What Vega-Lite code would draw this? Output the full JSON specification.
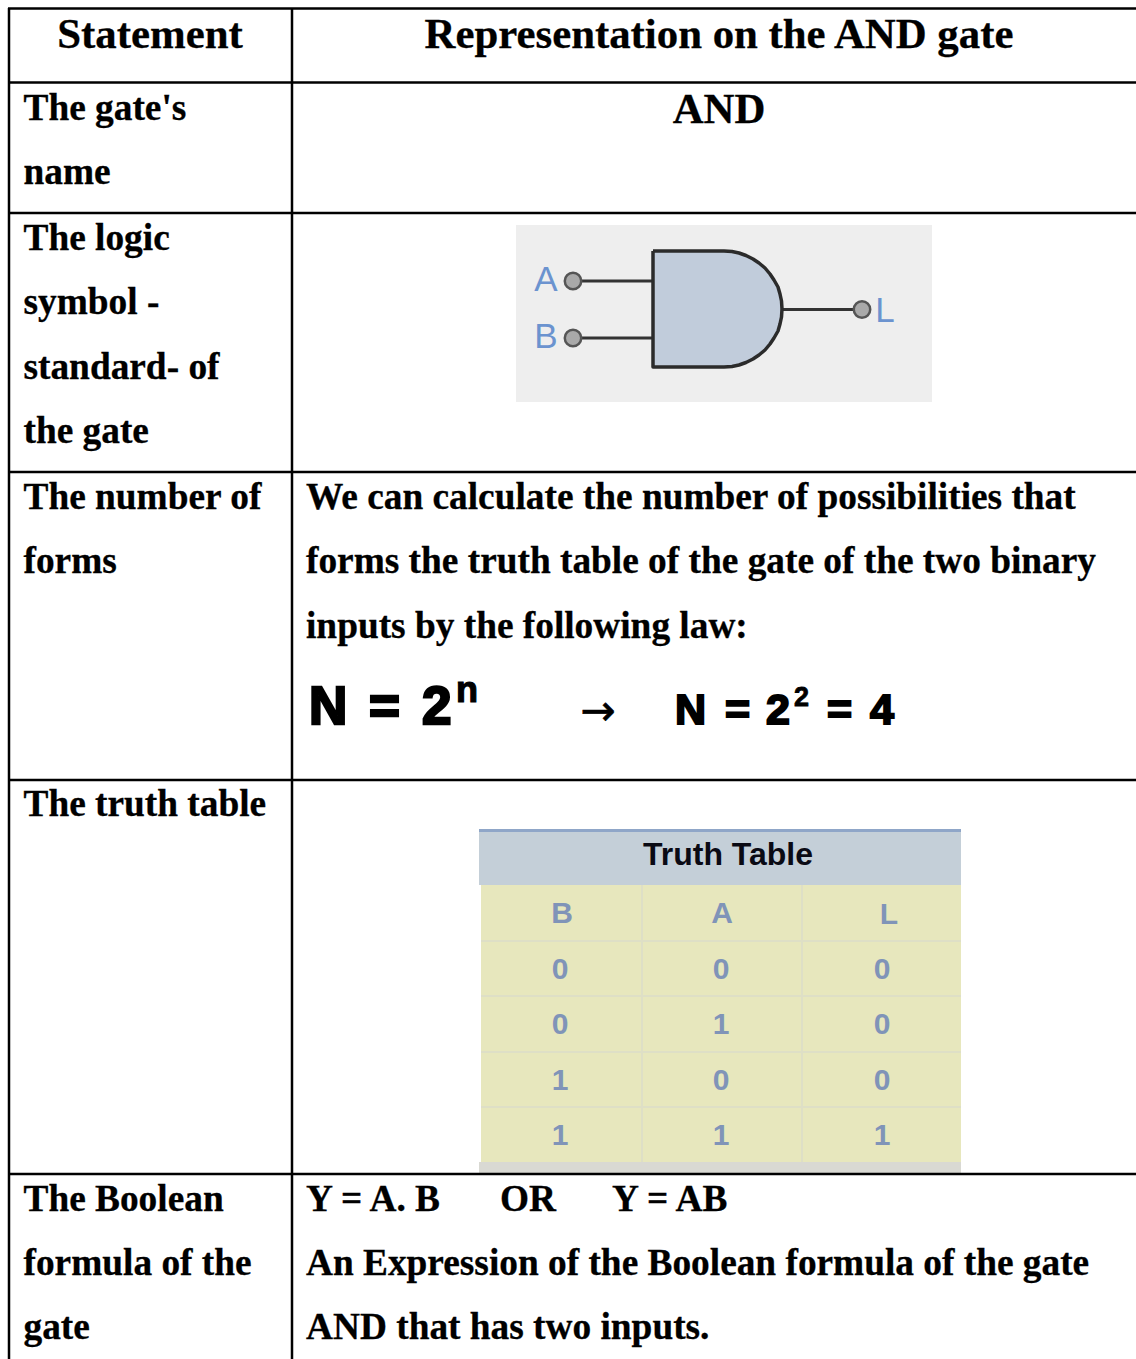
{
"$schema":"https://vega.github.io/schema/vega-lite/v6.json",
"autosize":{"type":"none"},
"padding":0,
"width":1136,"height":1359,
"background":"#ffffff",
"view":{"stroke":null},
"datasets":{
"rects":[
{"x":516,"x2":932,"y":225,"y2":402,"kind":"gatebg"},
{"x":479,"x2":961,"y":829,"y2":885,"kind":"head"},
{"x":479,"x2":961,"y":829,"y2":832,"kind":"headline"},
{"x":479,"x2":961,"y":1162,"y2":1173,"kind":"foot"},
{"x":481,"x2":961,"y":885,"y2":1162,"kind":"cell"},
{"x":641,"x2":643,"y":885,"y2":1162,"kind":"sep"},
{"x":801,"x2":803,"y":885,"y2":1162,"kind":"sep"},
{"x":481,"x2":961,"y":940,"y2":942,"kind":"sep"},
{"x":481,"x2":961,"y":995,"y2":997,"kind":"sep"},
{"x":481,"x2":961,"y":1051,"y2":1053,"kind":"sep"},
{"x":481,"x2":961,"y":1106,"y2":1108,"kind":"sep"}
],
"grid":[
{"x":9,"x2":9,"y":8,"y2":1359},
{"x":292,"x2":292,"y":8,"y2":1359},
{"x":8,"x2":1136,"y":8.5,"y2":8.5},
{"x":8,"x2":1136,"y":82.5,"y2":82.5},
{"x":8,"x2":1136,"y":213,"y2":213},
{"x":8,"x2":1136,"y":472,"y2":472},
{"x":8,"x2":1136,"y":780,"y2":780},
{"x":8,"x2":1136,"y":1174,"y2":1174}
],
"wires":[
{"x":573,"x2":653,"y":281,"y2":281},
{"x":573,"x2":653,"y":338,"y2":338},
{"x":782,"x2":862,"y":309.5,"y2":309.5}
],
"gate":[
{"x":653,"y":251,"y2":367},
{"x":724,"y":251,"y2":367},
{"x":732,"y":251.5,"y2":366.5},
{"x":739,"y":253,"y2":365},
{"x":746,"y":255.5,"y2":362.5},
{"x":753,"y":259,"y2":359},
{"x":759,"y":263,"y2":355},
{"x":765,"y":268,"y2":350},
{"x":770,"y":274,"y2":344},
{"x":774,"y":280,"y2":338},
{"x":778,"y":287,"y2":331},
{"x":780,"y":294,"y2":324},
{"x":781.5,"y":301,"y2":317},
{"x":782,"y":309,"y2":309}
],
"outline":[
{"i":1,"x":653,"y":251},{"i":2,"x":724,"y":251},{"i":3,"x":732,"y":251.5},{"i":4,"x":739,"y":253},{"i":5,"x":746,"y":255.5},{"i":6,"x":753,"y":259},{"i":7,"x":759,"y":263},
{"i":8,"x":765,"y":268},{"i":9,"x":770,"y":274},{"i":10,"x":774,"y":280},{"i":11,"x":778,"y":287},{"i":12,"x":780,"y":294},{"i":13,"x":781.5,"y":301},{"i":14,"x":782,"y":309},
{"i":15,"x":781.5,"y":317},{"i":16,"x":780,"y":324},{"i":17,"x":778,"y":331},{"i":18,"x":774,"y":338},{"i":19,"x":770,"y":344},{"i":20,"x":765,"y":350},{"i":21,"x":759,"y":355},{"i":22,"x":753,"y":359},
{"i":23,"x":746,"y":362.5},{"i":24,"x":739,"y":365},{"i":25,"x":732,"y":366.5},{"i":26,"x":724,"y":367},{"i":27,"x":653,"y":367},{"i":28,"x":653,"y":251}
],
"pins":[{"x":573,"y":281},{"x":573,"y":338},{"x":862,"y":309.5}],
"body":[
{"x":23.5,"y":119.5,"t":"The gate's"},{"x":23.5,"y":183.5,"t":"name"},
{"x":23.5,"y":249.5,"t":"The logic"},{"x":23.5,"y":313.5,"t":"symbol -"},{"x":23.5,"y":378.5,"t":"standard- of"},{"x":23.5,"y":442.5,"t":"the gate"},
{"x":23.5,"y":508.5,"t":"The number of"},{"x":23.5,"y":572.5,"t":"forms"},
{"x":23.5,"y":815.5,"t":"The truth table"},
{"x":23.5,"y":1210.5,"t":"The Boolean"},{"x":23.5,"y":1274.5,"t":"formula of the"},{"x":23.5,"y":1338.5,"t":"gate"},
{"x":306,"y":508.5,"t":"We can calculate the number of possibilities that"},
{"x":306,"y":572.5,"t":"forms the truth table of the gate of the two binary"},
{"x":306,"y":637.5,"t":"inputs by the following law:"},
{"x":306,"y":1210.5,"t":"Y = A. B"},{"x":500,"y":1210.5,"t":"OR"},{"x":612,"y":1210.5,"t":"Y = AB"},
{"x":306,"y":1274.5,"t":"An Expression of the Boolean formula of the gate"},
{"x":306,"y":1338.5,"t":"AND that has two inputs."}
],
"heads":[
{"x":150,"y":48,"t":"Statement"},
{"x":719,"y":48,"t":"Representation on the AND gate"},
{"x":719,"y":123,"t":"AND"}
],
"formula":[
{"x":309,"y":724,"t":"N","s":"f53"},{"x":369,"y":724,"t":"=","s":"f53"},{"x":422,"y":724,"t":"2","s":"f53"},
{"x":456,"y":702,"t":"n","s":"f30"},
{"x":675,"y":724,"t":"N","s":"f43"},{"x":725,"y":724,"t":"=","s":"f43"},{"x":766,"y":724,"t":"2","s":"f43"},
{"x":794,"y":706,"t":"2","s":"f23"},
{"x":827,"y":724,"t":"=","s":"f43"},{"x":870,"y":724,"t":"4","s":"f43"}
],
"arrow":[{"x":598,"y":725,"t":"→"}],
"gatelabels":[{"x":546,"y":291,"t":"A"},{"x":546,"y":348,"t":"B"},{"x":885,"y":322,"t":"L"}],
"tabletitle":[{"x":728,"y":865,"t":"Truth Table"}],
"cells":[
{"x":562,"y":923,"t":"B"},{"x":722,"y":923,"t":"A"},{"x":889,"y":924,"t":"L"},
{"x":560,"y":979,"t":"0"},{"x":721,"y":979,"t":"0"},{"x":882,"y":979,"t":"0"},
{"x":560,"y":1034,"t":"0"},{"x":721,"y":1034,"t":"1"},{"x":882,"y":1034,"t":"0"},
{"x":560,"y":1090,"t":"1"},{"x":721,"y":1090,"t":"0"},{"x":882,"y":1090,"t":"0"},
{"x":560,"y":1145,"t":"1"},{"x":721,"y":1145,"t":"1"},{"x":882,"y":1145,"t":"1"}
]
},
"data":{"name":"rects"},
"encoding":{
"x":{"field":"x","type":"quantitative","axis":null,"scale":{"domain":[0,1136],"nice":false,"zero":false}},
"y":{"field":"y","type":"quantitative","axis":null,"scale":{"domain":[1359,0],"nice":false,"zero":false}}
},
"layer":[
{"data":{"name":"rects"},"mark":{"type":"rect"},
 "encoding":{"x2":{"field":"x2"},"y2":{"field":"y2"},
 "color":{"field":"kind","type":"nominal","legend":null,"sort":null,
 "scale":{"domain":["gatebg","head","headline","foot","cell","sep"],"range":["#eeeeee","#c4cfd8","#8fa6c8","#d9d9d3","#e7e7bd","#dedfc6"]}}}},
{"data":{"name":"grid"},"mark":{"type":"rule","color":"#000000","strokeWidth":2.5},
 "encoding":{"x2":{"field":"x2"},"y2":{"field":"y2"}}},
{"data":{"name":"wires"},"mark":{"type":"rule","color":"#333333","strokeWidth":3},
 "encoding":{"x2":{"field":"x2"},"y2":{"field":"y2"}}},
{"data":{"name":"gate"},"mark":{"type":"area","color":"#c1ccdb","orient":"vertical"},
 "encoding":{"y2":{"field":"y2"}}},
{"data":{"name":"outline"},"mark":{"type":"line","color":"#2b2b2b","strokeWidth":3.5,"strokeJoin":"round"},
 "encoding":{"order":{"field":"i","type":"quantitative"}}},
{"data":{"name":"pins"},"mark":{"type":"point","filled":true,"fill":"#a9a9a9","stroke":"#555555","strokeWidth":2.5,"opacity":1,"size":270}},
{"data":{"name":"body"},"mark":{"type":"text","align":"left","baseline":"alphabetic","font":"Liberation Serif","fontWeight":"bold","fontSize":37.35,"color":"#000000","stroke":"#000000","strokeWidth":0.3},
 "encoding":{"text":{"field":"t"}}},
{"data":{"name":"heads"},"mark":{"type":"text","align":"center","baseline":"alphabetic","font":"Liberation Serif","fontWeight":"bold","fontSize":42.8,"color":"#000000","stroke":"#000000","strokeWidth":0.3},
 "encoding":{"text":{"field":"t"}}},
{"data":{"name":"formula"},"transform":[{"filter":"datum.s==='f53'"}],"mark":{"type":"text","align":"left","baseline":"alphabetic","font":"Liberation Sans","fontWeight":"bold","fontSize":53,"color":"#000000","stroke":"#000000","strokeWidth":2.5},
 "encoding":{"text":{"field":"t"}}},
{"data":{"name":"formula"},"transform":[{"filter":"datum.s==='f43'"}],"mark":{"type":"text","align":"left","baseline":"alphabetic","font":"Liberation Sans","fontWeight":"bold","fontSize":43,"color":"#000000","stroke":"#000000","strokeWidth":2},
 "encoding":{"text":{"field":"t"}}},
{"data":{"name":"formula"},"transform":[{"filter":"datum.s==='f30'"}],"mark":{"type":"text","align":"left","baseline":"alphabetic","font":"Liberation Sans","fontWeight":"bold","fontSize":36,"color":"#000000","stroke":"#000000","strokeWidth":1.2},
 "encoding":{"text":{"field":"t"}}},
{"data":{"name":"formula"},"transform":[{"filter":"datum.s==='f23'"}],"mark":{"type":"text","align":"left","baseline":"alphabetic","font":"Liberation Sans","fontWeight":"bold","fontSize":27,"color":"#000000","stroke":"#000000","strokeWidth":0.8},
 "encoding":{"text":{"field":"t"}}},
{"data":{"name":"arrow"},"mark":{"type":"text","align":"center","baseline":"alphabetic","font":"DejaVu Sans","fontSize":42,"color":"#000000","stroke":"#000000","strokeWidth":0.7},
 "encoding":{"text":{"field":"t"}}},
{"data":{"name":"gatelabels"},"mark":{"type":"text","align":"center","baseline":"alphabetic","font":"Liberation Sans","fontSize":35,"color":"#6b93cf"},
 "encoding":{"text":{"field":"t"}}},
{"data":{"name":"tabletitle"},"mark":{"type":"text","align":"center","baseline":"alphabetic","font":"Liberation Sans","fontWeight":"bold","fontSize":32,"color":"#0a0a14"},
 "encoding":{"text":{"field":"t"}}},
{"data":{"name":"cells"},"mark":{"type":"text","align":"center","baseline":"alphabetic","font":"Liberation Sans","fontWeight":"bold","fontSize":30,"color":"#8094b8"},
 "encoding":{"text":{"field":"t"}}}
]
}
